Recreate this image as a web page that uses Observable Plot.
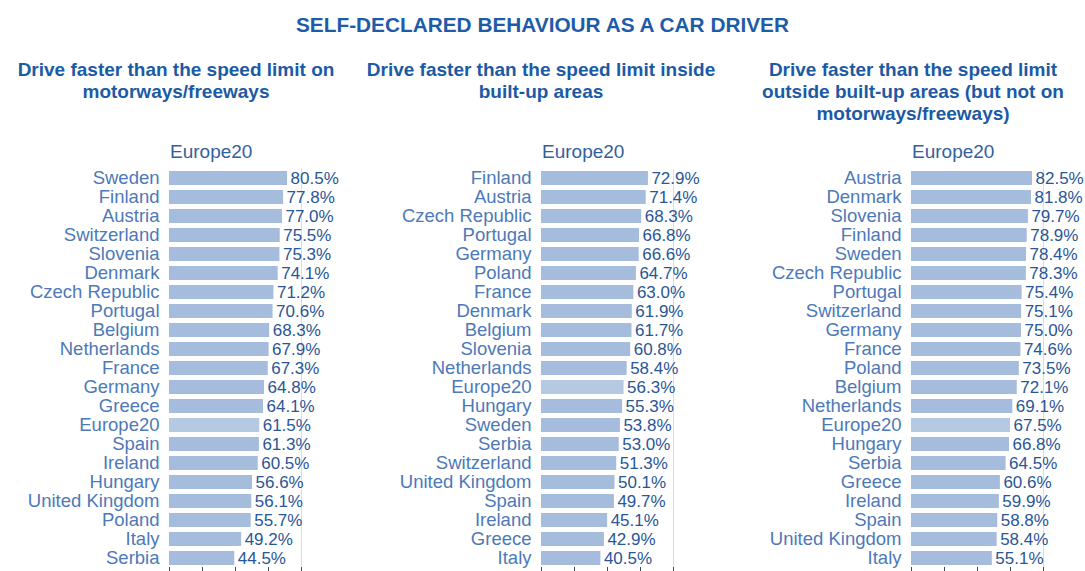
<!DOCTYPE html>
<html><head><meta charset="utf-8">
<script src="https://cdn.jsdelivr.net/npm/d3@7"></script>
<script src="https://cdn.jsdelivr.net/npm/@observablehq/plot@0.6"></script>
<style>
body{margin:0;background:#fff;font-family:"Liberation Sans",Arial,sans-serif;overflow:hidden}
#wrap{position:relative;width:1085px;height:571px;overflow:hidden}
.title{position:absolute;left:0;width:1085px;top:13px;text-align:center;font-weight:bold;font-size:20.8px;line-height:24px;color:#1f5ca8}
.sub{position:absolute;top:59px;text-align:center;font-weight:bold;font-size:19px;line-height:22px;color:#1b5aa5}
.hdr{position:absolute;top:141px;font-size:19px;line-height:22px;color:#34609c}
.chart{position:absolute;top:160px}
</style></head><body>
<div id="wrap">
  <div class="title">SELF-DECLARED BEHAVIOUR AS A CAR DRIVER</div>
  <div class="sub" style="left:0;width:352px">Drive faster than the speed limit on<br>motorways/freeways</div>
  <div class="sub" style="left:361px;width:360px">Drive faster than the speed limit inside<br>built-up areas</div>
  <div class="sub" style="left:743px;width:340px">Drive faster than the speed limit<br>outside built-up areas (but not on<br>motorways/freeways)</div>
  <div class="hdr" style="left:170px">Europe20</div>
  <div class="hdr" style="left:542px">Europe20</div>
  <div class="hdr" style="left:912px">Europe20</div>
  <div class="chart" id="c1" style="left:0"></div>
  <div class="chart" id="c2" style="left:360px"></div>
  <div class="chart" id="c3" style="left:720px"></div>
</div>
<script>
const countries1 = ["Sweden","Finland","Austria","Switzerland","Slovenia","Denmark","Czech Republic","Portugal","Belgium","Netherlands","France","Germany","Greece","Europe20","Spain","Ireland","Hungary","United Kingdom","Poland","Italy","Serbia"];
const values1 = [80.5,77.8,77.0,75.5,75.3,74.1,71.2,70.6,68.3,67.9,67.3,64.8,64.1,61.5,61.3,60.5,56.6,56.1,55.7,49.2,44.5];

const countries2 = ["Finland","Austria","Czech Republic","Portugal","Germany","Poland","France","Denmark","Belgium","Slovenia","Netherlands","Europe20","Hungary","Sweden","Serbia","Switzerland","United Kingdom","Spain","Ireland","Greece","Italy"];
const values2 = [72.9,71.4,68.3,66.8,66.6,64.7,63.0,61.9,61.7,60.8,58.4,56.3,55.3,53.8,53.0,51.3,50.1,49.7,45.1,42.9,40.5];

const countries3 = ["Austria","Denmark","Slovenia","Finland","Sweden","Czech Republic","Portugal","Switzerland","Germany","France","Poland","Belgium","Netherlands","Europe20","Hungary","Serbia","Greece","Ireland","Spain","United Kingdom","Italy"];
const values3 = [82.5,81.8,79.7,78.9,78.4,78.3,75.4,75.1,75.0,74.6,73.5,72.1,69.1,67.5,66.8,64.5,60.6,59.9,58.8,58.4,55.1];

const xTicks = [0, 22.5, 45, 67.5, 90];
const xMax = 90;

const barColor = "#a5bcdc";
const avgColor = "#b5c9e3";

function panel(countries, values, ml, width) {
  const data = countries.map((c, i) => ({country: c, value: values[i]}));
  const plotW = 132;
  return Plot.plot({
    width: width,
    height: 440,
    marginTop: 9,
    marginBottom: 33,
    marginLeft: ml,
    marginRight: width - ml - plotW,
    style: {fontFamily: '"Liberation Sans", Arial, sans-serif', background: "transparent", overflow: "visible"},
    x: {domain: [0, xMax]},
    y: {domain: countries, paddingInner: 0.26, paddingOuter: 0.1},
    marks: [
      Plot.ruleX([xMax], {stroke: "#d3ddec", strokeWidth: 1}),
      Plot.barX(data.filter(d => d.country !== "Europe20"), {x: "value", y: "country", fill: barColor}),
      Plot.barX(data.filter(d => d.country === "Europe20"), {x: "value", y: "country", fill: avgColor}),
      Plot.text(data, {x: "value", y: "country", text: d => d.value.toFixed(1) + "%", dx: 3, textAnchor: "start", fontSize: 17, fill: "#2a5696"}),
      Plot.axisY({tickSize: 0, tickPadding: 10, fontSize: 18.5, fill: "#4d79b8", label: null}),
      Plot.axisX({ticks: xTicks, tickFormat: () => "", tickSize: 6, stroke: "#3d4a5c", label: null})
    ]
  });
}

document.getElementById("c1").append(panel(countries1, values1, 169, 360));
document.getElementById("c2").append(panel(countries2, values2, 181, 360));
document.getElementById("c3").append(panel(countries3, values3, 191, 365));
</script>
</body></html>
